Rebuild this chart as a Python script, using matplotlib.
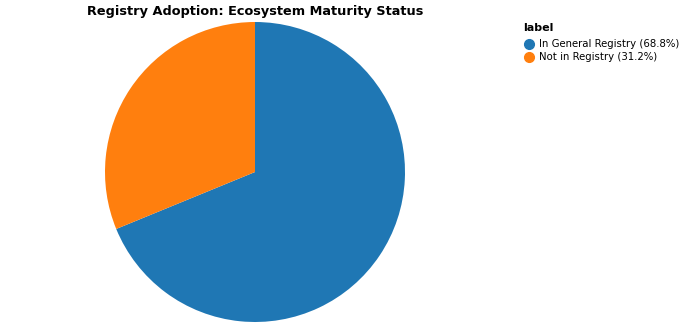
import matplotlib.pyplot as plt

labels = ["In General Registry (68.8%)", "Not in Registry (31.2%)"]
values = [68.8, 31.2]
colors = ["#1f77b4", "#ff7f0e"]

W, H = 683, 327
fig = plt.figure(figsize=(W / 100, H / 100), dpi=100)
ax = fig.add_axes([105 / W, 5 / H, 300 / W, 300 / H])
ax.pie(values, colors=colors, startangle=90, counterclock=False,
       wedgeprops=dict(linewidth=0))
ax.set_xlim(-1, 1)
ax.set_ylim(-1, 1)
ax.set_aspect('equal')

fig.text(255 / W, 1 - 11 / H, "Registry Adoption: Ecosystem Maturity Status",
         ha='center', va='center', fontsize=9.3, fontweight='bold')

# legend drawn in figure coordinates
fig.text(523 / W, 1 - 28 / H, "label", ha='left', va='center',
         fontsize=8, fontweight='bold')
for i, (lab, c) in enumerate(zip(labels, colors)):
    y = 1 - (44 + 13 * i) / H
    fig.lines.append(plt.Line2D([529 / W], [y], marker='o', markersize=7,
                                markerfacecolor=c, markeredgecolor=c,
                                linestyle='none', transform=fig.transFigure))
    fig.text(539 / W, y, lab, ha='left', va='center', fontsize=7.3)

fig.savefig("out.png", dpi=100)
